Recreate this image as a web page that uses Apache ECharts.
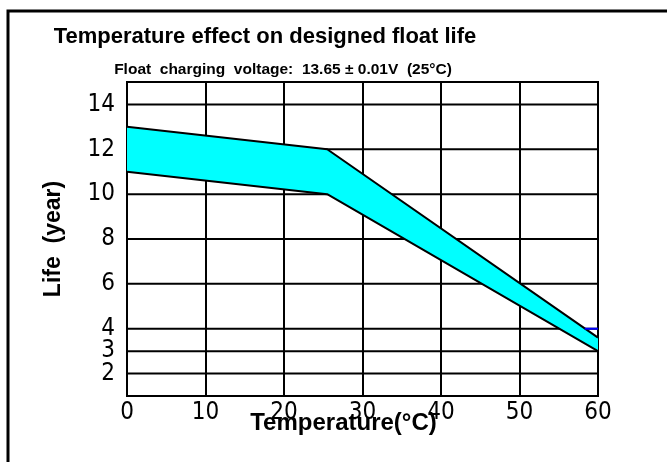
<!DOCTYPE html>
<html>
<head>
<meta charset="utf-8">
<script src="https://cdn.jsdelivr.net/npm/echarts@6/dist/echarts.min.js"></script>
<style>
  html, body { margin: 0; padding: 0; background: #fff; }
  #chart { width: 667px; height: 462px; }
</style>
</head>
<body>
<div id="chart"></div>
<script>
// band corners: temperature (°C) -> life (year)
const temps = [0, 25.5, 60];
const lifeUpper = [13, 12, 3.6];
const lifeLower = [11, 10, 3];
// labelled horizontal grid lines
const yGridValues = [2, 3, 4, 6, 8, 10, 12, 14];
// short blue piece of the 4-year line right of the band
const blueTemps = [58.3, 60];
const blueLife = [4, 4];

const chart = echarts.init(document.getElementById('chart'));

const upperPts = temps.map((t, i) => [t, lifeUpper[i]]);
const lowerPts = temps.map((t, i) => [t, lifeLower[i]]);
const bandPoly = upperPts.concat(lowerPts.slice().reverse());

const tickFont = "'DejaVu Sans Condensed', sans-serif";
const boldFont = "'Liberation Sans', Arial, sans-serif";

// each horizontal grid line is its own flat line under the band
const gridSeries = yGridValues.map(v => ({
  type: 'line', z: 1, silent: true, symbol: 'none',
  data: [[0, v], [60, v]],
  lineStyle: { color: '#000', width: 2 }
}));

const option = {
  animation: false,
  title: [
    {
      text: 'Temperature effect on designed float life',
      left: 260, top: 21, textAlign: 'center',
      textStyle: { fontFamily: boldFont, fontWeight: 'bold', fontSize: 22, color: '#000' }
    },
    {
      text: 'Float  charging  voltage:  13.65 ± 0.01V  (25°C)',
      left: 278, top: 57, textAlign: 'center',
      textStyle: { fontFamily: boldFont, fontWeight: 'bold', fontSize: 15.5, color: '#000' }
    }
  ],
  graphic: [
    {
      type: 'polyline',
      shape: { points: [[8, 462], [8, 11], [667, 11]] },
      style: { stroke: '#000', lineWidth: 3, fill: null }
    }
  ],
  grid: {
    left: 127, right: 69, top: 82, bottom: 66,
    show: true, borderColor: '#000', borderWidth: 2, backgroundColor: 'transparent'
  },
  xAxis: {
    type: 'value', min: 0, max: 60, interval: 10,
    name: 'Temperature(°C)', nameLocation: 'middle', nameGap: 15, nameMoveOverlap: false,
    nameTextStyle: { fontFamily: boldFont, fontWeight: 'bold', fontSize: 24, color: '#000', padding: [0, 38, 0, 0] },
    axisLine: { show: true, lineStyle: { color: '#000', width: 2 } },
    axisTick: { show: false },
    splitLine: { show: true, lineStyle: { color: '#000', width: 2 } },
    axisLabel: { margin: 5, fontFamily: tickFont, fontSize: 24, color: '#000' }
  },
  yAxis: {
    type: 'value', min: 1, max: 15, interval: 1,
    name: 'Life  (year)', nameLocation: 'middle', nameGap: 62, nameMoveOverlap: false,
    nameTextStyle: { fontFamily: boldFont, fontWeight: 'bold', fontSize: 23, color: '#000' },
    axisLine: { show: true, lineStyle: { color: '#000', width: 2 } },
    axisTick: { show: false },
    splitLine: { show: false },
    axisLabel: {
      margin: 12, fontFamily: tickFont, fontSize: 24, color: '#000',
      padding: [0, 0, 8, 0],
      formatter: v => (yGridValues.includes(v) ? String(v) : '')
    }
  },
  series: gridSeries.concat([
    {
      type: 'custom', z: 2, silent: true,
      data: [0],
      renderItem: (params, api) => ({
        type: 'polygon',
        shape: { points: bandPoly.map(p => api.coord(p)) },
        style: { fill: '#00ffff', stroke: null }
      })
    },
    {
      type: 'line', z: 3, data: upperPts, symbol: 'none', silent: true,
      lineStyle: { color: '#000', width: 2 }
    },
    {
      type: 'line', z: 3, data: lowerPts, symbol: 'none', silent: true,
      lineStyle: { color: '#000', width: 2 }
    },
    {
      type: 'line', z: 3, data: blueTemps.map((t, i) => [t, blueLife[i]]), symbol: 'none', silent: true,
      lineStyle: { color: '#0000ff', width: 2 }
    }
  ])
};

chart.setOption(option);
</script>
</body>
</html>
